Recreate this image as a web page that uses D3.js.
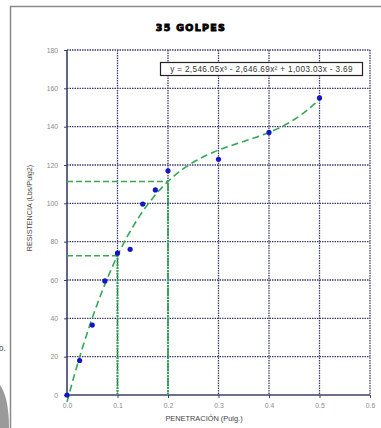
<!DOCTYPE html>
<html><head><meta charset="utf-8">
<script src="https://cdn.jsdelivr.net/npm/d3@7"></script>
<style>body{margin:0;background:#fff;}svg{display:block;}</style>
</head><body>
<svg id="c" width="381" height="428"></svg>
<script>
const penetration = [0, 0.025, 0.05, 0.075, 0.1, 0.125, 0.15, 0.175, 0.2, 0.3, 0.4, 0.5];
const resistance  = [0, 18, 36.5, 59.5, 74, 76, 99.6, 107, 117, 123, 137, 155];
const trendCoeffs = [2546.05, -2646.69, 1003.03, -3.69]; // x^3, x^2, x, c
const xTicks = [0, 0.1, 0.2, 0.3, 0.4, 0.5, 0.6];
const yTicks = [0, 20, 40, 60, 80, 100, 120, 140, 160, 180];
const refX = [0.1, 0.2];
const title = "35 GOLPES";
const equation = "y = 2,546.05x³ - 2,646.69x² + 1,003.03x - 3.69";

const svg = d3.select("#c");
const L = 67, R = 370, T = 50, B = 395;
const x = d3.scaleLinear().domain([0, 0.6]).range([L, R]);
const y = d3.scaleLinear().domain([0, 180]).range([B, T]);
const trend = v => trendCoeffs[0]*v*v*v + trendCoeffs[1]*v*v + trendCoeffs[2]*v + trendCoeffs[3];

// background decorations
svg.append("path").attr("d","M0,385 C5,392 9,405 9,428 L0,428 Z").attr("fill","#9a9a9a");
svg.append("text").attr("x",-1).attr("y",351).attr("font-family","Arial, Liberation Sans").attr("font-size",8).attr("fill","#333").text("0.");
// outer frame
svg.append("rect").attr("x",10.5).attr("y",6.5).attr("width",380).attr("height",430).attr("fill","#fff").attr("stroke","#8a8a8a").attr("stroke-width",1.5);

// title
svg.append("text").attr("x",191).attr("y",31).attr("text-anchor","middle")
  .attr("font-family","DejaVu Sans").attr("font-weight","900").attr("font-size",9.5)
  .attr("letter-spacing",1.3).attr("fill","#000").attr("stroke","#000").attr("stroke-width",0.9).text(title);

// grid
const g = svg.append("g");
g.selectAll(".gy").data(yTicks.filter(d=>d>0)).enter().append("line")
  .attr("x1",L).attr("x2",R).attr("y1",d=>y(d)).attr("y2",d=>y(d))
  .attr("stroke","#3e3e70").attr("stroke-width",1.3).attr("stroke-dasharray","1.5,1");
g.selectAll(".gx").data(xTicks.filter(d=>d>0)).enter().append("line")
  .attr("y1",T).attr("y2",B).attr("x1",d=>x(d)).attr("x2",d=>x(d))
  .attr("stroke","#3e3e70").attr("stroke-width",1.3).attr("stroke-dasharray","1.5,1");

// axes
const xAxis = d3.axisBottom(x).tickValues(xTicks).tickFormat(d3.format(".1f")).tickSize(3);
const yAxis = d3.axisLeft(y).tickValues(yTicks).tickFormat(d3.format("d")).tickSize(3);
const gx = svg.append("g").attr("transform",`translate(0,${B})`).call(xAxis);
const gy = svg.append("g").attr("transform",`translate(${L},0)`).call(yAxis);
[gx,gy].forEach(a=>{
  a.select(".domain").attr("stroke","#3e3e6a").attr("stroke-width",1.6);
  a.selectAll(".tick line").attr("stroke","#3e3e6a");
  a.selectAll("text").attr("font-family","Arial, Liberation Sans").attr("font-size",6.8).attr("fill","#8a8a8a");
});
gx.selectAll("text").attr("dy","1.1em");
gy.selectAll("text").attr("dx","-3");
gy.select(".domain").attr("d",`M0,${B}V${T}`);
gx.select(".domain").attr("d",`M${L},0H${R}`);

// reference lines
refX.forEach(v=>{
  svg.append("line").attr("x1",x(v)).attr("x2",x(v)).attr("y1",B).attr("y2",y(trend(v)))
    .attr("stroke","#2ea84e").attr("stroke-width",2).attr("stroke-dasharray","2,1");
  svg.append("line").attr("x1",L).attr("x2",x(v)).attr("y1",y(trend(v))).attr("y2",y(trend(v)))
    .attr("stroke","#3aa850").attr("stroke-width",1.5).attr("stroke-dasharray","6,3");
});

// trendline
const tx = d3.range(0, 0.5001, 0.005);
svg.append("path").datum(tx)
  .attr("d", d3.line().x(d=>x(d)).y(d=>y(trend(d))))
  .attr("fill","none").attr("stroke","#35a855").attr("stroke-width",1.6).attr("stroke-dasharray","7,4");

// points
svg.selectAll(".pt").data(penetration).enter().append("circle")
  .attr("cx",d=>x(d)).attr("cy",(d,i)=>y(resistance[i])).attr("r",2.6).attr("fill","#1515c8");

// equation box
svg.append("rect").attr("x",160.5).attr("y",62.5).attr("width",202).attr("height",13)
  .attr("fill","#fff").attr("stroke","#222").attr("stroke-width",1.2);
svg.append("text").attr("x",261.5).attr("y",72.3).attr("text-anchor","middle")
  .attr("font-family","Arial, Liberation Sans").attr("font-size",8.2).attr("letter-spacing",0.35)
  .attr("fill","#333").text(equation);

// axis titles
svg.append("text").attr("x",204).attr("y",421).attr("text-anchor","middle")
  .attr("font-family","Arial, Liberation Sans").attr("font-size",7.4).attr("fill","#444").text("PENETRACIÓN (Pulg.)");
svg.append("text").attr("transform","translate(32,208) rotate(-90)").attr("text-anchor","middle")
  .attr("font-family","Arial, Liberation Sans").attr("font-size",7.2).attr("fill","#444").text("RESISTENCIA (Lbs/Pulg2)");
</script>
</body></html>
